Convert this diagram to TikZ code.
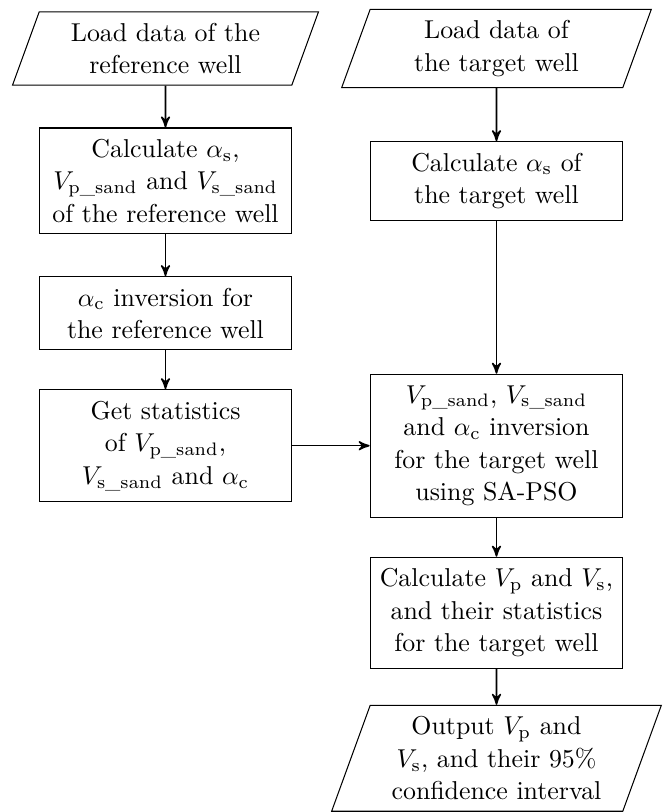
\documentclass[tikz,border=0pt]{standalone}
\usepackage{amsmath}
\usepackage{tikz}
\usetikzlibrary{shapes,arrows,positioning}
\linespread{1.05}

\begin{document}
\begin{tikzpicture}[->,>=stealth',semithick,node distance=1.8cm]
\tikzstyle{process}=[draw,thin,rectangle,text width=3.2cm,align=center,inner ysep=4.3pt]
\tikzstyle{io}=[draw,thin,trapezium,trapezium left angle=70,trapezium right angle=110,text width=3.2cm,align=center,inner ysep=4.3pt]
\useasboundingbox (-2.25,0.66) rectangle (6.79,-10.38);
% reference well
\node[io] (LR) {Load data of the\\ reference well};
\node[process][below of=LR] (CR) {Calculate $\alpha_\mathrm{s}$,\\ $V_\mathrm{p\_sand}$ and $V_\mathrm{s\_sand}$\\ of the reference well};
\node[process][below of=CR] (IR) {$\alpha_\mathrm{c}$ inversion for\\ the reference well};
\node[process][below of=IR] (SR) {Get statistics\\ of $V_\mathrm{p\_sand}$,\\ $V_\mathrm{s\_sand}$ and $\alpha_\mathrm{c}$};
% target well
\node[io][right of=LR,node distance=4.5cm] (LT) {Load data of\\ the target well};
\node[process][below of=LT] (CT) {Calculate $\alpha_\mathrm{s}$ of\\ the target well};
\node[process][right of=SR,node distance=4.5cm] (IT) {$V_\mathrm{p\_sand}$, $V_\mathrm{s\_sand}$\\ and $\alpha_\mathrm{c}$ inversion\\ for the target well\\ using SA-PSO};
\node[process][below of=IT,node distance=2.27cm] (CV) {Calculate $V_\mathrm{p}$ and $V_\mathrm{s}$,\\ and their statistics\\ for the target well};
\node[io][below of=CV,node distance=1.98cm] (OUT) {Output $V_\mathrm{p}$ and\\ $V_\mathrm{s}$, and their 95\%\\ confidence interval};
\path (LR) edge (CR)
      (CR) edge (IR)
      (IR) edge (SR)
      (SR) edge (IT)
      (LT) edge (CT)
      (CT) edge (IT)
      (IT) edge (CV)
      (CV) edge (OUT);
\end{tikzpicture}
\end{document}
